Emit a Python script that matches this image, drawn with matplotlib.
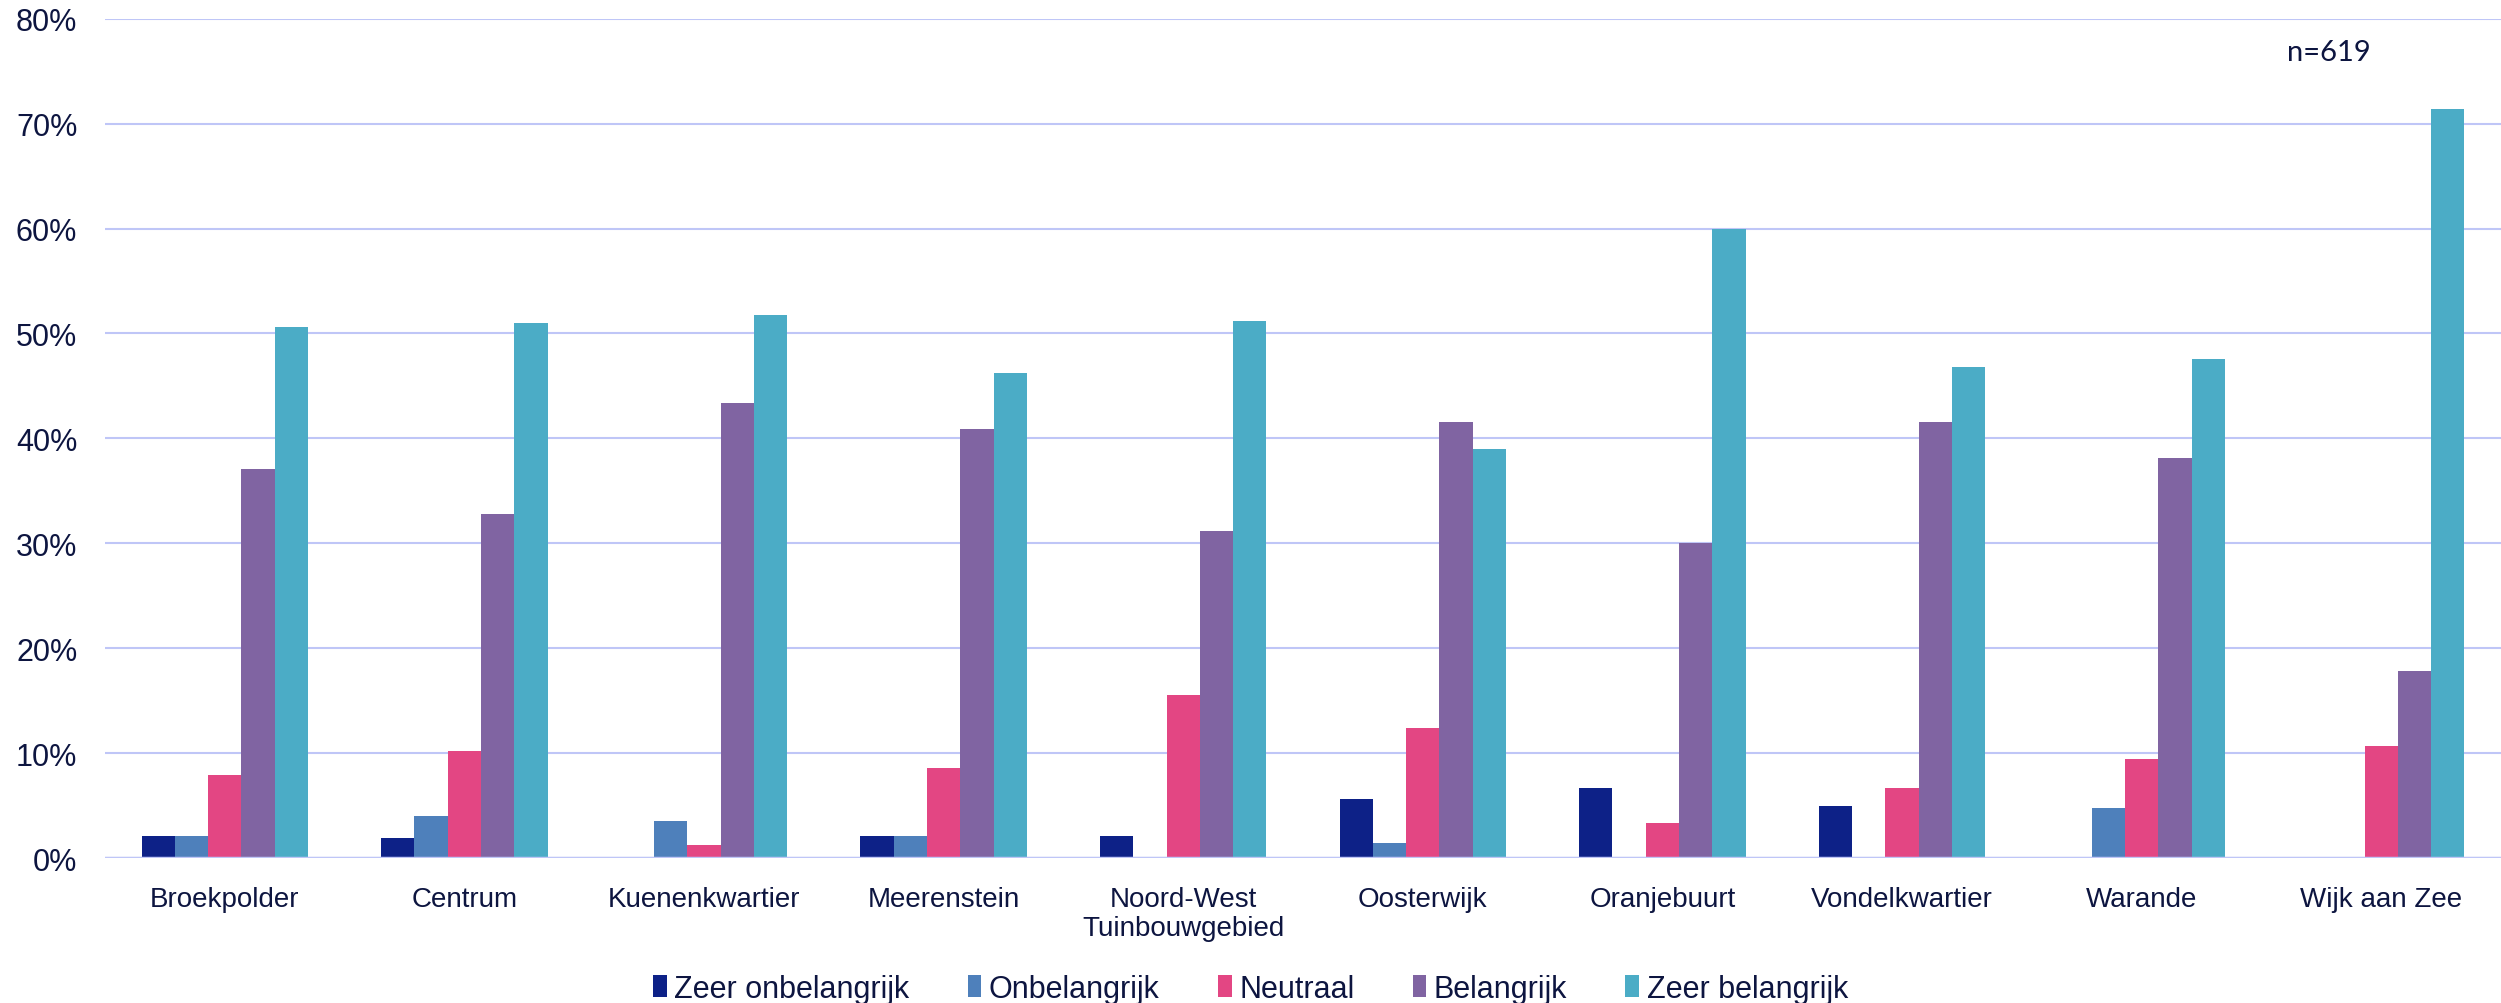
import numpy as np
import matplotlib
matplotlib.use("Agg")
import matplotlib.pyplot as plt
from matplotlib.ticker import PercentFormatter

plt.rcParams["font.family"] = ["Liberation Sans", "DejaVu Sans"]

wijken = ["Broekpolder", "Centrum", "Kuenenkwartier", "Meerenstein",
          "Noord-West\nTuinbouwgebied", "Oosterwijk", "Oranjebuurt",
          "Vondelkwartier", "Warande", "Wijk aan Zee"]

zeer_onbelangrijk = [2.1, 1.9, 0.0, 2.1, 2.1, 5.6, 6.7, 5.0, 0.0, 0.0]
onbelangrijk = [2.1, 4.0, 3.5, 2.1, 0.0, 1.4, 0.0, 0.0, 4.8, 0.0]
neutraal = [7.9, 10.2, 1.2, 8.6, 15.5, 12.4, 3.3, 6.7, 9.4, 10.7]
belangrijk = [37.1, 32.8, 43.4, 40.9, 31.2, 41.6, 30.0, 41.6, 38.1, 17.8]
zeer_belangrijk = [50.6, 51.0, 51.8, 46.2, 51.2, 39.0, 60.0, 46.8, 47.6, 71.4]

reeksen = ["Zeer onbelangrijk", "Onbelangrijk", "Neutraal", "Belangrijk", "Zeer belangrijk"]
kleuren = ["#0D2187", "#4E80BB", "#E34683", "#8064A2", "#4BACC6"]

tekst = "#0D1540"
grid = "#BFC6F7"

fig = plt.figure(figsize=(25.01, 10.04), dpi=100)
ax = fig.add_axes([0.042, 0.1444, 0.958, 0.836])

x = np.arange(len(wijken))
w = 0.139
data = [zeer_onbelangrijk, onbelangrijk, neutraal, belangrijk, zeer_belangrijk]
for i, (naam, waarden, kleur) in enumerate(zip(reeksen, data, kleuren)):
    ax.bar(x + (i - 2) * w, np.array(waarden) / 100, w, color=kleur, label=naam, zorder=3)

ax.set_xlim(-0.5, len(wijken) - 0.5)
ax.set_ylim(0, 0.8)
ax.set_yticks(np.arange(0, 0.81, 0.1))
ax.yaxis.set_major_formatter(PercentFormatter(1.0, decimals=0))
ax.grid(axis="y", color=grid, linewidth=1.5, zorder=0)
ax.axhline(0, color=grid, linewidth=2.5, zorder=4)
for s in ax.spines.values():
    s.set_visible(False)

ax.set_xticks(x)
ax.set_xticklabels(wijken, fontsize=20, color=tekst, linespacing=1.15, va="top")
ax.tick_params(axis="x", length=0, pad=20)
ax.tick_params(axis="y", length=0, pad=20, labelsize=22, labelcolor=tekst)

ax.text(0.928, 0.960, "n=619", transform=ax.transAxes, fontsize=21,
        color=tekst, family="Lato", ha="center", va="center")

fig.legend(loc="lower center", bbox_to_anchor=(0.5, -0.028), ncol=5, frameon=False,
           prop={"size": 22}, labelcolor=tekst,
           handlelength=0.45, handleheight=0.75, handletextpad=0.25, columnspacing=1.9)

fig.savefig("out.png", dpi=100)
